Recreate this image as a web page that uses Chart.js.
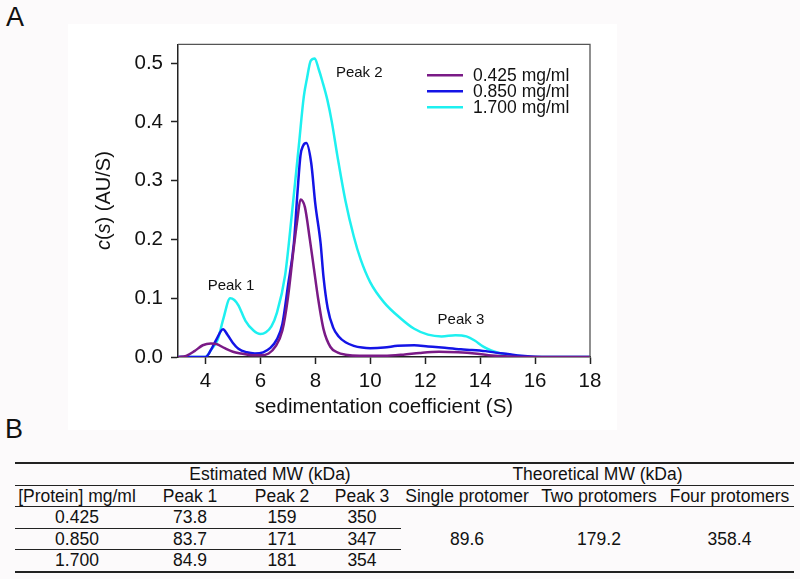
<!DOCTYPE html>
<html>
<head>
<meta charset="utf-8">
<script src="https://cdn.jsdelivr.net/npm/chart.js@4.4.1/dist/chart.umd.min.js"></script>
<style>
    html, body { margin: 0; padding: 0; }
    body {
        width: 800px; height: 579px; overflow: hidden; position: relative;
        background: #fcfafb;
        font-family: "Liberation Sans", Arial, sans-serif;
        color: #111;
    }
    .panel-tag { position: absolute; font-size: 27px; line-height: 1; }
    #chart-box { position: absolute; left: 68px; top: 24px; width: 549px; height: 406px; background: #fff; }
    #mw-table {
        position: absolute; left: 15px; top: 462px;
        border-collapse: collapse; table-layout: fixed;
        font-size: 17.5px; border-bottom: 2px solid #222;
    }
    #mw-table td { padding: 0; height: 20.5px; text-align: center; white-space: nowrap; line-height: 20px; }
    #mw-table tr.top td { border-top: 2px solid #222; }
    #mw-table tr.line td { border-top: 1.5px solid #222; }
    #mw-table td.sep { border-top: 1.5px solid #222; }
</style>
</head>
<body>
<div class="panel-tag" style="left:6px; top:4px;">A</div>
<div class="panel-tag" style="left:5px; top:416px;">B</div>
<div id="chart-box"><canvas id="cs-chart" width="549" height="406"></canvas></div>
<table id="mw-table"></table>

<script>
// c(s) distributions, one pair of arrays per concentration
const seriesLabels = ['0.425 mg/ml', '0.850 mg/ml', '1.700 mg/ml'];
const seriesColors = ['#7a1a86', '#1414e6', '#1ef0f0'];

const sLow  = [3.0, 3.3, 3.6, 3.9, 4.2, 4.4, 4.7, 5.0, 5.3, 5.7, 6.0, 6.3, 6.55, 6.8, 7.0, 7.2, 7.35, 7.46, 7.62, 7.8, 7.95, 8.1, 8.3, 8.55, 8.8, 9.1, 9.6, 10.5, 11.2, 11.8, 12.5, 13.2, 13.8, 14.3, 15.0, 15.6, 18.0];
const cLow  = [0, 0.002, 0.010, 0.020, 0.023, 0.022, 0.015, 0.009, 0.006, 0.003, 0.003, 0.006, 0.018, 0.045, 0.100, 0.180, 0.235, 0.268, 0.255, 0.200, 0.150, 0.100, 0.047, 0.017, 0.008, 0.004, 0.002, 0.002, 0.004, 0.007, 0.009, 0.008, 0.006, 0.003, 0.001, 0, 0];

const sMid  = [3.0, 4.0, 4.2, 4.4, 4.64, 4.8, 5.0, 5.2, 5.5, 5.8, 6.1, 6.35, 6.6, 6.8, 7.0, 7.22, 7.35, 7.46, 7.56, 7.67, 7.85, 8.0, 8.19, 8.3, 8.45, 8.65, 8.85, 9.1, 9.4, 9.7, 10.0, 10.5, 11.0, 11.6, 12.1, 12.6, 13.3, 13.7, 14.2, 14.65, 15.0, 15.5, 16.0, 16.5, 18.0];
const cMid  = [0, 0, 0.012, 0.030, 0.047, 0.038, 0.024, 0.014, 0.008, 0.006, 0.008, 0.015, 0.030, 0.056, 0.120, 0.194, 0.280, 0.343, 0.360, 0.364, 0.330, 0.260, 0.194, 0.135, 0.083, 0.050, 0.035, 0.025, 0.019, 0.016, 0.015, 0.016, 0.019, 0.020, 0.018, 0.016, 0.013, 0.012, 0.010, 0.007, 0.005, 0.002, 0.0005, 0, 0];

const sHigh = [3.0, 4.0, 4.2, 4.45, 4.65, 4.9, 5.05, 5.2, 5.45, 5.75, 6.0, 6.2, 6.4, 6.6, 6.9, 7.15, 7.4, 7.58, 7.7, 7.83, 7.98, 8.12, 8.25, 8.44, 8.6, 8.8, 9.1, 9.4, 9.65, 10.0, 10.5, 11.1, 11.6, 12.1, 12.6, 13.1, 13.5, 13.8, 14.1, 14.4, 14.75, 15.2, 15.6, 16.0, 18.0];
const cHigh = [0, 0, 0.012, 0.030, 0.065, 0.100, 0.097, 0.088, 0.062, 0.045, 0.039, 0.042, 0.052, 0.075, 0.139, 0.245, 0.360, 0.443, 0.475, 0.504, 0.508, 0.490, 0.470, 0.437, 0.400, 0.343, 0.265, 0.205, 0.166, 0.127, 0.093, 0.066, 0.048, 0.038, 0.035, 0.037, 0.035, 0.028, 0.018, 0.011, 0.006, 0.003, 0.001, 0, 0];

const xTicks = [4, 6, 8, 10, 12, 14, 16, 18];
const yTicks = [0, 0.1, 0.2, 0.3, 0.4, 0.5];

// peak annotations, placed in data units
const peakNames = ['Peak 1', 'Peak 2', 'Peak 3'];
const peakS     = [4.93, 9.6, 13.3];
const peakC     = [0.121, 0.483, 0.064];

// table B
const tableConc  = ['0.425', '0.850', '1.700'];
const peak1MW    = ['73.8', '83.7', '84.9'];
const peak2MW    = ['159', '171', '181'];
const peak3MW    = ['350', '347', '354'];
const theoHeads  = ['Single protomer', 'Two protomers', 'Four protomers'];
const theoMW     = ['89.6', '179.2', '358.4'];
const colWidths  = [124, 102, 82, 78, 132, 132, 129];

const FONT = '"Liberation Sans", Arial, sans-serif';

const frameAndLabels = {
    id: 'frameAndLabels',
    afterDraw(chart) {
        const ctx = chart.ctx;
        const a = chart.chartArea;
        const xs = chart.scales.x, ys = chart.scales.y;
        ctx.save();

        // top and right frame lines
        ctx.strokeStyle = '#555';
        ctx.lineWidth = 1.3;
        ctx.beginPath();
        ctx.moveTo(a.left, a.top);
        ctx.lineTo(a.right, a.top);
        ctx.lineTo(a.right, a.bottom);
        ctx.stroke();

        // peak labels
        ctx.fillStyle = '#111';
        ctx.font = '15px ' + FONT;
        ctx.textAlign = 'center';
        ctx.textBaseline = 'middle';
        peakNames.forEach((name, i) => {
            ctx.fillText(name, xs.getPixelForValue(peakS[i]), ys.getPixelForValue(peakC[i]));
        });

        // legend
        ctx.font = '17.5px ' + FONT;
        ctx.textAlign = 'left';
        chart.data.datasets.forEach((ds, i) => {
            const y = a.top + 31 + i * 16;
            ctx.strokeStyle = ds.borderColor;
            ctx.lineWidth = 2.5;
            ctx.beginPath();
            ctx.moveTo(a.right - 163, y);
            ctx.lineTo(a.right - 127, y);
            ctx.stroke();
            ctx.fillText(ds.label, a.right - 117, y + 1);
        });

        // y title with italic c and s
        const parts = [['c', true], ['(', false], ['s', true], [') (AU/S)', false]];
        const fontFor = it => (it ? 'italic ' : '') + '20px ' + FONT;
        let total = 0;
        parts.forEach(p => { ctx.font = fontFor(p[1]); total += ctx.measureText(p[0]).width; });
        ctx.translate(36, (a.top + a.bottom) / 2);
        ctx.rotate(-Math.PI / 2);
        let x = -total / 2;
        parts.forEach(p => {
            ctx.font = fontFor(p[1]);
            ctx.fillText(p[0], x, 0);
            x += ctx.measureText(p[0]).width;
        });
        ctx.restore();
    }
};

const mkData = (s, c) => s.map((v, i) => ({ x: v, y: c[i] }));
const seriesData = [mkData(sLow, cLow), mkData(sMid, cMid), mkData(sHigh, cHigh)];

new Chart(document.getElementById('cs-chart'), {
    type: 'line',
    data: {
        datasets: seriesData.map((d, i) => ({
            label: seriesLabels[i],
            data: d,
            borderColor: seriesColors[i],
            borderWidth: 2.5,
            pointRadius: 0,
            fill: false,
            cubicInterpolationMode: 'monotone'
        }))
    },
    options: {
        responsive: false,
        animation: false,
        events: [],
        layout: { padding: { top: 12, right: 27, left: 0, bottom: 0 } },
        plugins: { legend: { display: false }, tooltip: { enabled: false } },
        scales: {
            x: {
                type: 'linear', min: 3, max: 18,
                afterFit: s => { s.height = 73; },
                afterBuildTicks: s => { s.ticks = xTicks.map(v => ({ value: v })); },
                border: { color: '#222', width: 1.5 },
                grid: { drawOnChartArea: false, tickLength: 7, color: '#222', tickWidth: 1.5 },
                ticks: { color: '#111', padding: 5, font: { size: 20.5, family: FONT } },
                title: { display: true, text: 'sedimentation coefficient (S)', color: '#111',
                         padding: { top: 0, bottom: 10 }, font: { size: 20.5, family: FONT } }
            },
            y: {
                type: 'linear', min: 0, max: 0.532,
                afterFit: s => { s.width = 110; },
                afterBuildTicks: s => { s.ticks = yTicks.map(v => ({ value: v })); },
                border: { color: '#222', width: 1.5 },
                grid: { drawOnChartArea: false, tickLength: 7, color: '#222', tickWidth: 1.5 },
                ticks: { color: '#111', padding: 8, font: { size: 20.5, family: FONT },
                         callback: v => v.toFixed(1) }
            }
        }
    },
    plugins: [frameAndLabels]
});

// build table B
const table = document.getElementById('mw-table');
let html = '<colgroup>' + colWidths.map(w => `<col style="width:${w}px">`).join('') + '</colgroup>';
html += '<tr class="top"><td></td><td colspan="3">Estimated MW (kDa)</td><td colspan="3">Theoretical MW (kDa)</td></tr>';
html += '<tr class="line"><td>[Protein] mg/ml</td><td>Peak 1</td><td>Peak 2</td><td>Peak 3</td>' +
        theoHeads.map(h => `<td>${h}</td>`).join('') + '</tr>';
tableConc.forEach((c, i) => {
    const cls = i === 0 ? ' class="line"' : '';
    const sep = i === 0 ? '' : ' class="sep"';
    html += `<tr${cls}><td${sep}>${c}</td><td${sep}>${peak1MW[i]}</td><td${sep}>${peak2MW[i]}</td><td${sep}>${peak3MW[i]}</td>`;
    if (i === 0) html += theoMW.map(v => `<td rowspan="3">${v}</td>`).join('');
    html += '</tr>';
});
table.innerHTML = html;
</script>
</body>
</html>
